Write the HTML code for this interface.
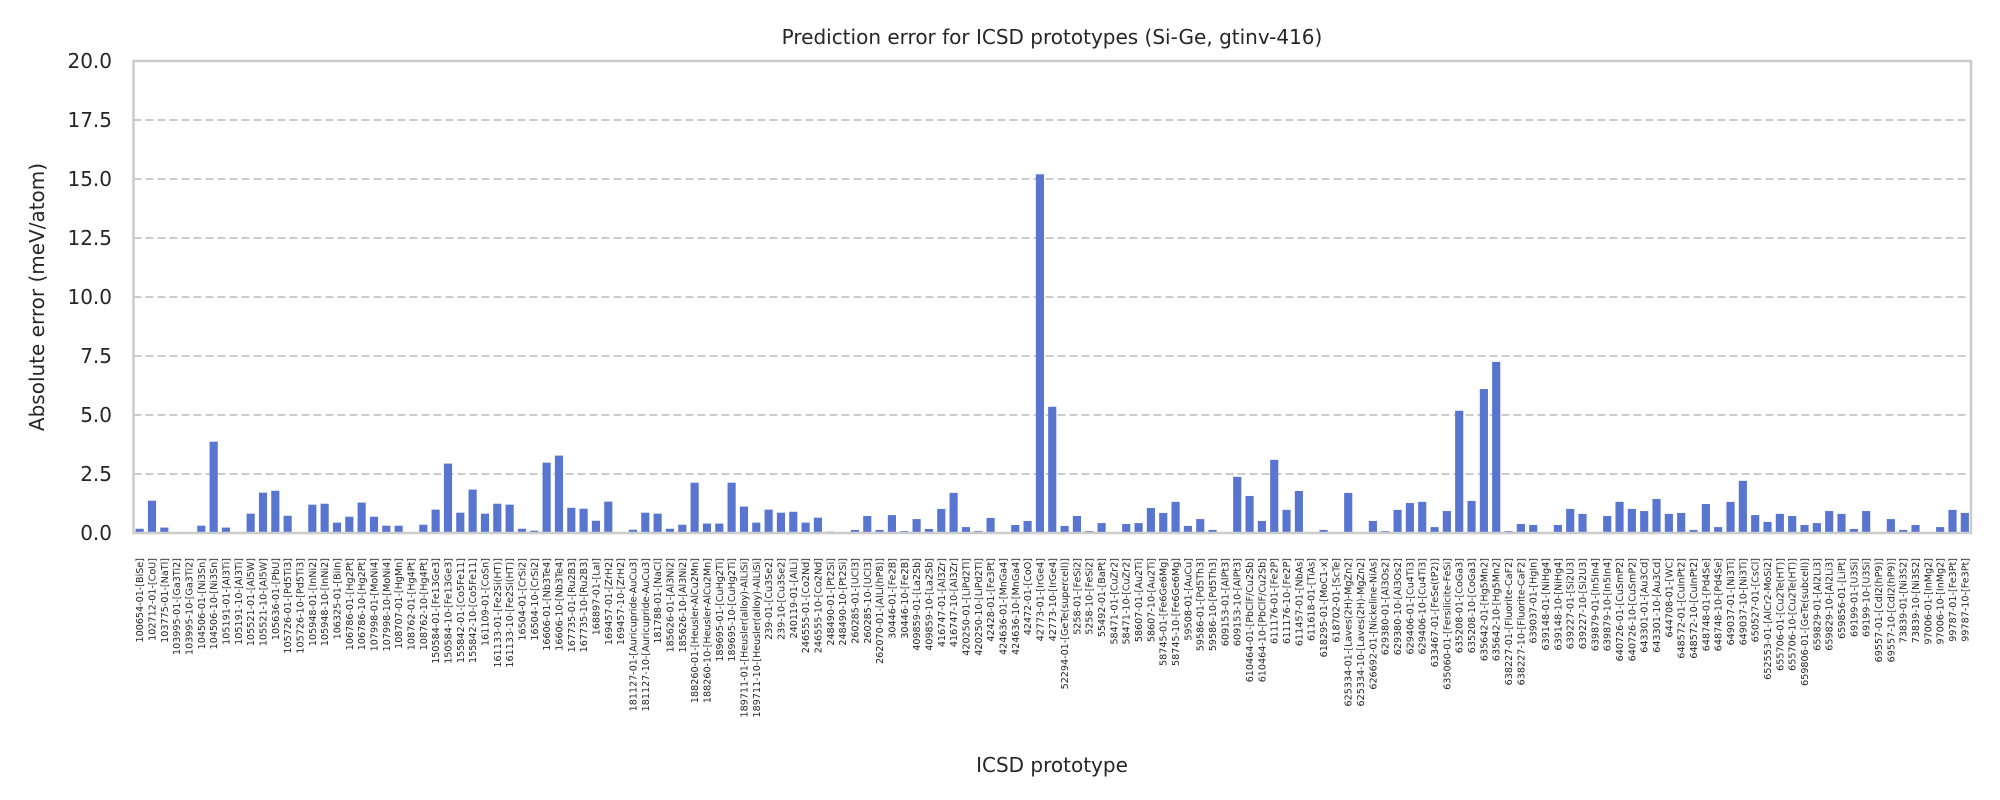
<!DOCTYPE html>
<html><head><meta charset="utf-8"><style>
html,body{margin:0;padding:0;background:#fff;width:2000px;height:800px;overflow:hidden}
svg{display:block;font-family:"DejaVu Sans","Liberation Sans",sans-serif}
</style></head><body>
<svg id="chart" width="2000" height="800" viewBox="0 0 2000 800" xmlns="http://www.w3.org/2000/svg">
<text x="1052" y="44" font-size="20" text-anchor="middle" fill="#262626">Prediction error for ICSD prototypes (Si-Ge, gtinv-416)</text>
<text transform="translate(44,297) rotate(-90)" font-size="20" text-anchor="middle" fill="#262626">Absolute error (meV/atom)</text>
<text x="1052" y="772" font-size="20" text-anchor="middle" fill="#262626">ICSD prototype</text>
<g id="grid"></g>
<g id="bars"></g>
<g id="yticks"></g>
<g id="xticks"></g>
<rect x="133.5" y="61" width="1837.5" height="472" fill="none" stroke="#cccccc" stroke-width="2.5"/>
</svg>
<script>
const categories = ["100654-01-[BiSe]","102712-01-[CoU]","103775-01-[NaTl]","103995-01-[Ga3Ti2]","103995-10-[Ga3Ti2]","104506-01-[Ni3Sn]","104506-10-[Ni3Sn]","105191-01-[Al3Ti]","105191-10-[Al3Ti]","105521-01-[Al5W]","105521-10-[Al5W]","105636-01-[PbU]","105726-01-[Pd5Ti3]","105726-10-[Pd5Ti3]","105948-01-[InNi2]","105948-10-[InNi2]","106325-01-[BiIn]","106786-01-[Hg2Pt]","106786-10-[Hg2Pt]","107998-01-[MoNi4]","107998-10-[MoNi4]","108707-01-[HgMn]","108762-01-[Hg4Pt]","108762-10-[Hg4Pt]","150584-01-[Fe13Ge3]","150584-10-[Fe13Ge3]","155842-01-[Co5Fe11]","155842-10-[Co5Fe11]","161109-01-[CoSn]","161133-01-[Fe2Si(HT)]","161133-10-[Fe2Si(HT)]","16504-01-[CrSi2]","16504-10-[CrSi2]","16606-01-[Nb3Te4]","16606-10-[Nb3Te4]","167735-01-[Ru2B3]","167735-10-[Ru2B3]","168897-01-[LaI]","169457-01-[ZrH2]","169457-10-[ZrH2]","181127-01-[Auricupride-AuCu3]","181127-10-[Auricupride-AuCu3]","181788-01-[NaCl]","185626-01-[Al3Ni2]","185626-10-[Al3Ni2]","188260-01-[Heusler-AlCu2Mn]","188260-10-[Heusler-AlCu2Mn]","189695-01-[CuHg2Ti]","189695-10-[CuHg2Ti]","189711-01-[Heusler(alloy)-AlLiSi]","189711-10-[Heusler(alloy)-AlLiSi]","239-01-[Cu3Se2]","239-10-[Cu3Se2]","240119-01-[AlLi]","246555-01-[Co2Nd]","246555-10-[Co2Nd]","248490-01-[Pt2Si]","248490-10-[Pt2Si]","260285-01-[UCl3]","260285-10-[UCl3]","262070-01-[AlLi(hP8)]","30446-01-[Fe2B]","30446-10-[Fe2B]","409859-01-[La2Sb]","409859-10-[La2Sb]","416747-01-[Al3Zr]","416747-10-[Al3Zr]","420250-01-[LiPd2Tl]","420250-10-[LiPd2Tl]","42428-01-[Fe3Pt]","424636-01-[MnGa4]","424636-10-[MnGa4]","42472-01-[CoO]","42773-01-[IrGe4]","42773-10-[IrGe4]","52294-01-[GeTe(supercell)]","5258-01-[FeSi2]","5258-10-[FeSi2]","55492-01-[BaPt]","58471-01-[CuZr2]","58471-10-[CuZr2]","58607-01-[Au2Ti]","58607-10-[Au2Ti]","58745-01-[Fe6Ge6Mg]","58745-10-[Fe6Ge6Mg]","59508-01-[AuCu]","59586-01-[Pd5Th3]","59586-10-[Pd5Th3]","609153-01-[AlPt3]","609153-10-[AlPt3]","610464-01-[PbClF/Cu2Sb]","610464-10-[PbClF/Cu2Sb]","611176-01-[Fe2P]","611176-10-[Fe2P]","611457-01-[NbAs]","611618-01-[TiAs]","618295-01-[MoC1-x]","618702-01-[ScTe]","625334-01-[Laves(2H)-MgZn2]","625334-10-[Laves(2H)-MgZn2]","626692-01-[Nickeline-NiAs]","629380-01-[Al3Os2]","629380-10-[Al3Os2]","629406-01-[Cu4Ti3]","629406-10-[Cu4Ti3]","633467-01-[FeSe(tP2)]","635060-01-[Fersilicite-FeSi]","635208-01-[CoGa3]","635208-10-[CoGa3]","635642-01-[Hg5Mn2]","635642-10-[Hg5Mn2]","638227-01-[Fluorite-CaF2]","638227-10-[Fluorite-CaF2]","639037-01-[HgIn]","639148-01-[NiHg4]","639148-10-[NiHg4]","639227-01-[Si2U3]","639227-10-[Si2U3]","639879-01-[In5In4]","639879-10-[In5In4]","640726-01-[CuSmP2]","640726-10-[CuSmP2]","643301-01-[Au3Cd]","643301-10-[Au3Cd]","644708-01-[WC]","648572-01-[CuInPt2]","648572-10-[CuInPt2]","648748-01-[Pd4Se]","648748-10-[Pd4Se]","649037-01-[Ni3Ti]","649037-10-[Ni3Ti]","650527-01-[CsCl]","652553-01-[AlCr2-MoSi2]","655706-01-[Cu2Te(HT)]","655706-10-[Cu2Te(HT)]","659806-01-[GeTe(subcell)]","659829-01-[Al2Li3]","659829-10-[Al2Li3]","659856-01-[LiPt]","69199-01-[U3Si]","69199-10-[U3Si]","69557-01-[CdI2(hP9)]","69557-10-[CdI2(hP9)]","73839-01-[Ni3S2]","73839-10-[Ni3S2]","97006-01-[InMg2]","97006-10-[InMg2]","99787-01-[Fe3Pt]","99787-10-[Fe3Pt]"];
const errors = [0.18,1.37,0.23,0,0,0.31,3.87,0.23,0,0.82,1.71,1.79,0.73,0,1.2,1.24,0.44,0.69,1.29,0.69,0.31,0.31,0,0.35,0.99,2.94,0.86,1.84,0.82,1.24,1.2,0.18,0.1,2.98,3.28,1.07,1.03,0.52,1.33,0,0.14,0.86,0.82,0.18,0.35,2.13,0.4,0.4,2.13,1.12,0.44,0.99,0.86,0.9,0.44,0.65,0.06,0,0.13,0.72,0.13,0.76,0.08,0.59,0.17,1.02,1.7,0.25,0.08,0.64,0,0.34,0.51,15.2,5.35,0.3,0.72,0.08,0.42,0.04,0.38,0.42,1.06,0.85,1.32,0.3,0.59,0.13,0,2.38,1.57,0.51,3.1,0.98,1.78,0.04,0.13,0,1.7,0,0.51,0.08,0.98,1.27,1.32,0.25,0.93,5.18,1.36,6.1,7.25,0.08,0.38,0.34,0,0.34,1.02,0.81,0,0.72,1.32,1.02,0.93,1.44,0.81,0.85,0.13,1.23,0.25,1.32,2.21,0.76,0.47,0.81,0.72,0.34,0.42,0.93,0.81,0.17,0.93,0,0.59,0.13,0.34,0.04,0.25,0.98,0.85];
const yTicks = [0,2.5,5,7.5,10,12.5,15,17.5,20];
const yTickLabels = ["0.0","2.5","5.0","7.5","10.0","12.5","15.0","17.5","20.0"];

const NS = "http://www.w3.org/2000/svg";
const X0 = 133.5, X1 = 1971, Y0 = 533, Y1 = 61, YMAX = 20;
const step = (X1 - X0) / categories.length;
function xCenter(i){ return X0 + (i + 0.5) * step; }
function yPos(v){ return Y0 - (v / YMAX) * (Y0 - Y1); }

const grid = document.getElementById('grid');
const yt = document.getElementById('yticks');
yTicks.forEach((t, k) => {
  const y = yPos(t);
  if (t > 0 && t < YMAX) {
    const l = document.createElementNS(NS, 'line');
    
    
    l.setAttribute('x1', X0); l.setAttribute('x2', X1);
    l.setAttribute('y1', y); l.setAttribute('y2', y);
    l.setAttribute('stroke', '#cccccc'); l.setAttribute('stroke-width', '2');
    l.setAttribute('stroke-dasharray', '8,4');
    grid.appendChild(l);
  }
  const tx = document.createElementNS(NS, 'text');
  
  
  tx.setAttribute('x', 112); tx.setAttribute('y', y + 7);
  tx.setAttribute('font-size', '20'); tx.setAttribute('text-anchor', 'end');
  tx.setAttribute('fill', '#262626');
  tx.textContent = yTickLabels[k];
  yt.appendChild(tx);
});

const bars = document.getElementById('bars');
const xt = document.getElementById('xticks');
const bw = step * 0.66;
categories.forEach((c, i) => {
  const v = errors[i];
  const cx = xCenter(i);
  const r = document.createElementNS(NS, 'rect');
  
  
  r.setAttribute('x', cx - bw / 2); r.setAttribute('width', bw);
  r.setAttribute('y', yPos(v)); r.setAttribute('height', Y0 - yPos(v));
  r.setAttribute('fill', '#5875d0');
  bars.appendChild(r);
  const t = document.createElementNS(NS, 'text');
  
  
  t.setAttribute('transform', 'translate(' + (cx + 3.5) + ',558) rotate(-90)');
  t.setAttribute('font-size', '9.6'); t.setAttribute('text-anchor', 'end');
  t.setAttribute('fill', '#262626');
  t.textContent = c;
  xt.appendChild(t);
});
</script>
</body></html>
